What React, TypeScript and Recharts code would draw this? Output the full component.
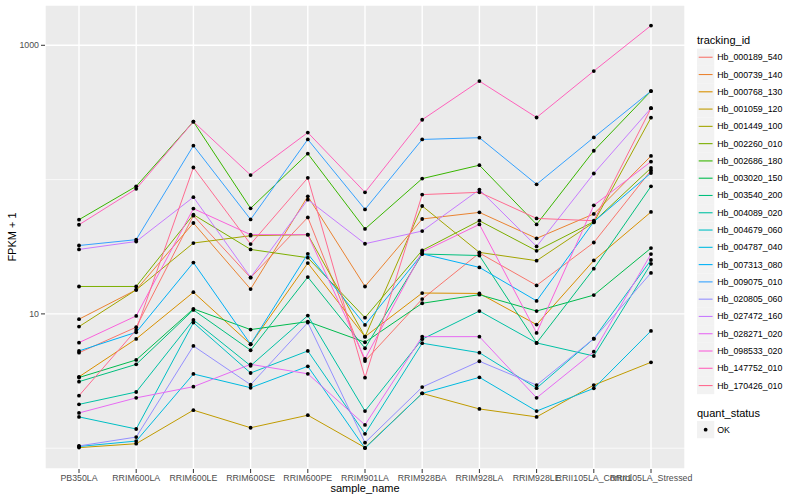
import React from 'react';
import { LineChart, Line, XAxis, YAxis, CartesianGrid, ReferenceLine } from 'recharts';

const sampleNames = [
  'PB350LA', 'RRIM600LA', 'RRIM600LE', 'RRIM600SE', 'RRIM600PE', 'RRIM901LA',
  'RRIM928BA', 'RRIM928LA', 'RRIM928LE', 'RRII105LA_Control', 'RRII105LA_Stressed',
];

const trackingIds = [
  'Hb_000189_540', 'Hb_000739_140', 'Hb_000768_130', 'Hb_001059_120', 'Hb_001449_100',
  'Hb_002260_010', 'Hb_002686_180', 'Hb_003020_150', 'Hb_003540_200', 'Hb_004089_020',
  'Hb_004679_060', 'Hb_004787_040', 'Hb_007313_080', 'Hb_009075_010', 'Hb_020805_060',
  'Hb_027472_160', 'Hb_028271_020', 'Hb_098533_020', 'Hb_147752_010', 'Hb_170426_010',
];

// ggplot hue palette, 20 levels
const lineColors = [
  '#F8766D', '#EA8331', '#D89000', '#C09B00', '#A3A500', '#7CAE00', '#39B600', '#00BB4E',
  '#00BF7D', '#00C1A3', '#00BFC4', '#00BAE0', '#00B0F6', '#35A2FF', '#9590FF', '#C77CFF',
  '#E76BF3', '#FA62DB', '#FF62BC', '#FF6C91',
];

// FPKM + 1, one value per sample
const hb000189_540 = [5.14, 7.96, 53.9, 18.6, 52.3, 4.46, 12.9, 28.4, 16.3, 34.0, 117];
const hb000739_140 = [9.13, 15.1, 47.5, 15.3, 75.0, 16.0, 50.9, 57.0, 36.5, 55.5, 150];
const hb000768_130 = [3.4, 6.51, 14.5, 5.94, 23.9, 6.77, 14.3, 14.2, 8.32, 25.0, 57.4];
const hb001059_120 = [1.01, 1.08, 1.92, 1.42, 1.76, 1.01, 2.56, 1.96, 1.71, 2.95, 4.36];
const hb001449_100 = [8.04, 15.1, 33.7, 38.2, 38.9, 6.77, 63.6, 28.7, 24.9, 48.0, 289];
const hb002260_010 = [16.0, 16.0, 54.8, 30.2, 26.2, 9.38, 29.7, 49.4, 29.5, 48.6, 122];
const hb002686_180 = [50.3, 89.1, 270, 61.1, 156, 42.9, 101.7, 128, 46.4, 164, 456];
const hb003020_150 = [3.36, 4.54, 10.9, 7.64, 8.76, 6.15, 12.0, 13.9, 10.5, 13.8, 30.9];
const hb003540_200 = [3.13, 4.21, 10.7, 5.36, 18.8, 5.55, 27.9, 27.2, 6.08, 21.7, 89.1];
const hb004089_020 = [2.12, 2.62, 9.02, 4.11, 9.71, 1.89, 6.48, 10.5, 6.08, 4.86, 23.6];
const hb004679_060 = [1.71, 1.39, 8.61, 3.63, 5.3, 1.28, 6.05, 5.14, 2.8, 6.54, 25.2];
const hb004787_040 = [1.03, 1.13, 3.57, 2.82, 4.07, 1.0, 2.56, 3.37, 1.89, 2.79, 7.47];
const hb007313_080 = [5.3, 7.3, 24.1, 5.94, 28.0, 8.28, 28.0, 22.2, 12.5, 48.6, 112];
const hb009075_010 = [32.3, 35.7, 179, 50.5, 199, 60.0, 199, 205, 92.2, 206, 456];
const hb020805_060 = [1.04, 1.21, 5.77, 2.97, 8.61, 1.1, 2.85, 4.44, 2.95, 6.54, 20.2];
const hb027472_160 = [30.2, 34.6, 74.0, 18.7, 70.9, 33.3, 41.4, 84.2, 31.8, 111, 340];
const hb028271_020 = [1.83, 2.37, 2.87, 4.21, 3.58, 1.49, 6.77, 6.77, 2.37, 5.23, 27.9];
const hb098533_020 = [6.11, 9.66, 60.8, 38.9, 38.9, 4.62, 28.9, 46.4, 7.22, 64.3, 136];
const hb147752_010 = [46.1, 85.3, 270, 108, 224, 80.4, 279, 541, 290, 643, 1403];
const hb170426_010 = [2.46, 7.6, 123, 33.1, 103, 3.35, 77.3, 80.4, 51.4, 49.4, 340];

const seriesValues = [
  hb000189_540, hb000739_140, hb000768_130, hb001059_120, hb001449_100,
  hb002260_010, hb002686_180, hb003020_150, hb003540_200, hb004089_020,
  hb004679_060, hb004787_040, hb007313_080, hb009075_010, hb020805_060,
  hb027472_160, hb028271_020, hb098533_020, hb147752_010, hb170426_010,
];

const yTicks = [10, 1000];
const yMinorGrid = [1, 100];

const data = sampleNames.map((name, i) => {
  const row: any = { sample_name: name };
  trackingIds.forEach((id, s) => {
    row[id] = seriesValues[s][i];
  });
  return row;
});

const font = '"Liberation Sans", Arial, Helvetica, sans-serif';
const axisText = { fontSize: 8.8, fill: '#4D4D4D', fontFamily: font };

function LegendBox() {
  const x0 = 697;
  const top = 48.6;
  const key = 17.28;
  return (
    <svg width={800} height={500} style={{ position: 'absolute', left: 0, top: 0, pointerEvents: 'none' }}>
      <text x={12} y={237} transform="rotate(-90 12 237)" textAnchor="middle" dominantBaseline="central"
        fontSize={11} fontFamily={font} fill="#000">FPKM + 1</text>
      <text x={365} y={492} textAnchor="middle" fontSize={11} fontFamily={font} fill="#000">sample_name</text>

      <text x={x0} y={44} fontSize={11} fontFamily={font} fill="#000">tracking_id</text>
      {trackingIds.map((id, i) => {
        const y = top + i * key;
        return (
          <g key={id}>
            <rect x={x0} y={y} width={key} height={key} fill="#F2F2F2" />
            <line x1={x0 + 1.7} x2={x0 + key - 1.7} y1={y + key / 2} y2={y + key / 2} stroke={lineColors[i]} strokeWidth={1.1} />
            <text x={x0 + key + 3} y={y + key / 2} dominantBaseline="central" fontSize={8.8} fontFamily={font} fill="#000">{id}</text>
          </g>
        );
      })}

      <text x={x0} y={417} fontSize={11} fontFamily={font} fill="#000">quant_status</text>
      <rect x={x0} y={421} width={key} height={key} fill="#F2F2F2" />
      <circle cx={x0 + key / 2} cy={421 + key / 2} r={1.9} fill="#000" />
      <text x={x0 + key + 3} y={421 + key / 2} dominantBaseline="central" fontSize={8.8} fontFamily={font} fill="#000">OK</text>
    </svg>
  );
}

export default function App() {
  return (
    <div style={{ position: 'absolute', left: 0, top: 0, width: 800, height: 500, background: '#fff', fontFamily: font }}>
      <LineChart width={800} height={500} data={data} margin={{ top: 5, right: 115, bottom: 0, left: 0 }}>
        <CartesianGrid fill="#EBEBEB" stroke="#FFFFFF" strokeWidth={1.4} />
        {yMinorGrid.map((v) => (
          <ReferenceLine key={v} y={v} stroke="#FFFFFF" strokeWidth={0.7} />
        ))}
        <XAxis
          dataKey="sample_name"
          padding={{ left: 34, right: 34 }}
          height={31}
          interval={0}
          tickSize={4}
          tickMargin={1.5}
          axisLine={false}
          tickLine={{ stroke: '#333333' }}
          tick={axisText}
        />
        <YAxis
          type="number"
          scale="log"
          domain={[0.7, 1995]}
          allowDataOverflow
          ticks={yTicks}
          width={45}
          tickSize={4}
          axisLine={false}
          tickLine={{ stroke: '#333333' }}
          tick={axisText}
        />
        {trackingIds.map((id, i) => (
          <Line key={id} dataKey={id} type="linear" stroke={lineColors[i]} strokeWidth={1}
            dot={false} activeDot={false} isAnimationActive={false} />
        ))}
        {trackingIds.map((id) => (
          <Line key={id + '_pt'} dataKey={id} type="linear" stroke="none"
            dot={{ r: 1.9, fill: '#000', stroke: 'none' }} activeDot={false} isAnimationActive={false} />
        ))}
      </LineChart>
      <LegendBox />
    </div>
  );
}
